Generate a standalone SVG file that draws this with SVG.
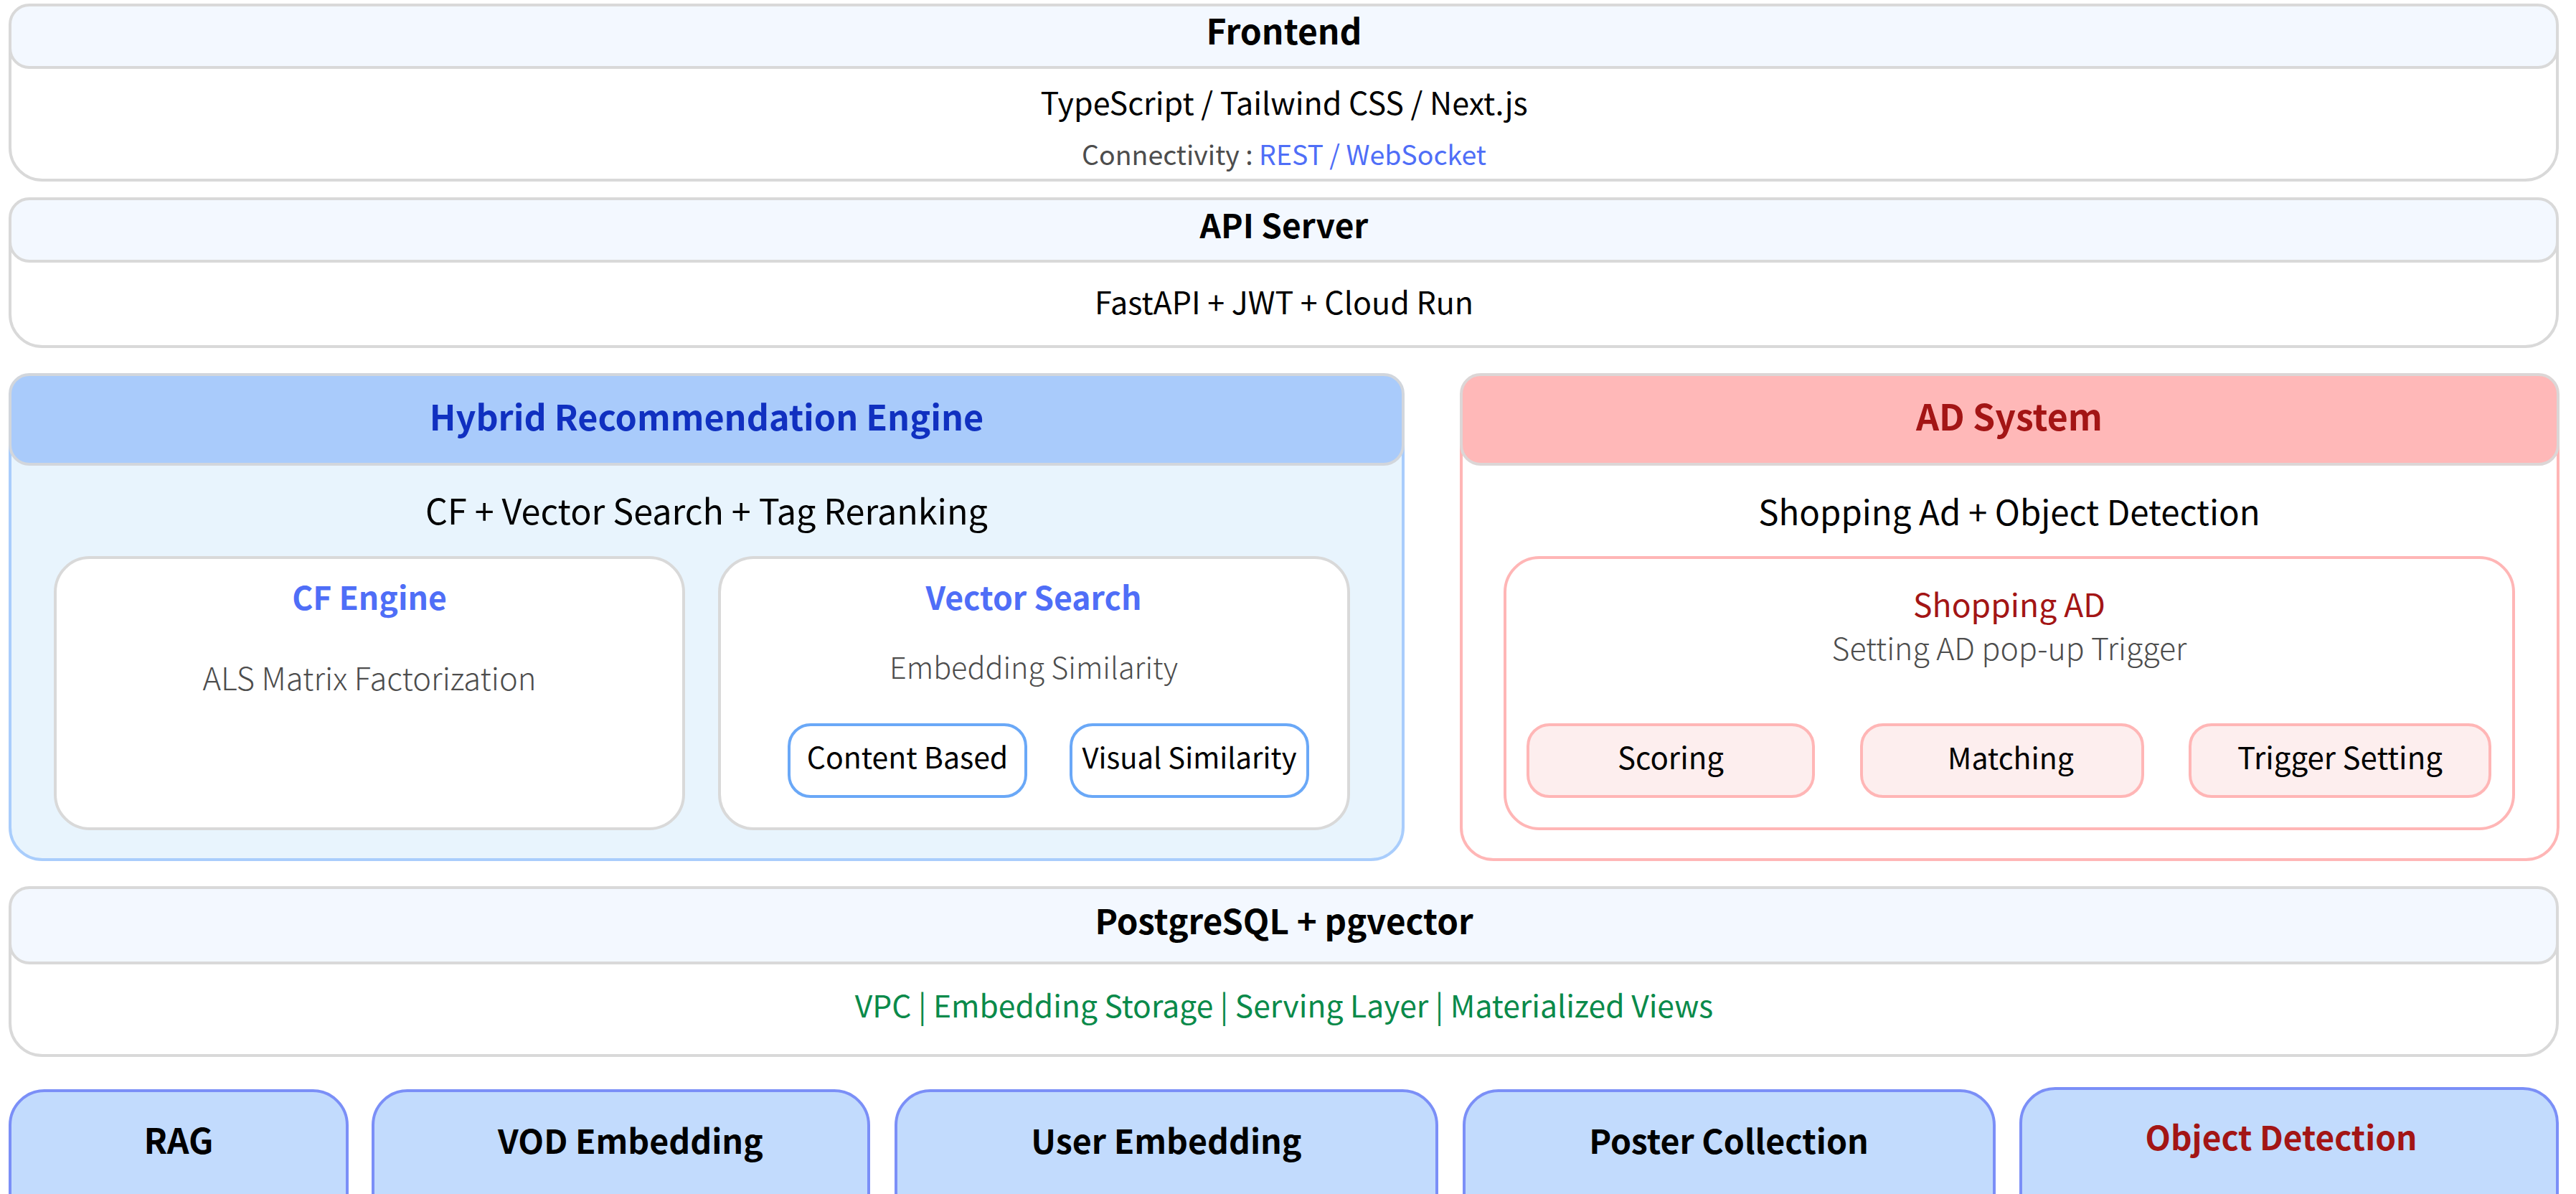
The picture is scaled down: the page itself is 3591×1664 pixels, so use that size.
<svg xmlns="http://www.w3.org/2000/svg" width="3591" height="1664" viewBox="0 0 3591 1664">
<style>
text{font-family:"Noto Sans CJK KR","Noto Sans",sans-serif;text-anchor:middle}
.outer{fill:#fff;stroke:#d9d9d9;stroke-width:4}
.hdr{fill:#f3f8ff;stroke:#d9d9d9;stroke-width:4}
.t{font-size:48px;font-weight:700;fill:#000}
.b{font-size:43px;font-weight:400;fill:#000}
.s{font-size:37.5px;font-weight:400;fill:#4d4d4d}
.lt{font-size:43.5px;font-weight:300;fill:#4d4d4d}
.sub{fill:#fff;stroke:#d9d9d9;stroke-width:4}
.blue{font-size:44.5px;font-weight:700;fill:#4f6ef7}
.chipb{fill:#fff;stroke:#6aa8f7;stroke-width:4}
.chipr{fill:#fdeeee;stroke:#ffb6b6;stroke-width:4}
.base{fill:#c2dbfd;stroke:#7b8ff7;stroke-width:4}
.c{font-size:42px;font-weight:400;fill:#000}
.bb{font-size:46.5px;font-weight:700;fill:#000}
</style>
<g id="frontend">
<rect class="outer" x="14" y="7" width="3551" height="244" rx="45"/>
<rect class="hdr" x="14" y="7" width="3551" height="87" rx="27"/>
<text class="t" x="1790" y="62">Frontend</text>
<text class="b" x="1790" y="160">TypeScript / Tailwind CSS / Next.js</text>
<text class="s" x="1790" y="230">Connectivity : <tspan fill="#4f6ef7">REST / WebSocket</tspan></text>
</g>
<g id="api-server">
<rect class="outer" x="14" y="277" width="3551" height="206" rx="45"/>
<rect class="hdr" x="14" y="277" width="3551" height="87" rx="27"/>
<text class="t" x="1790" y="332" style="font-size:46px">API Server</text>
<text class="b" x="1790" y="438">FastAPI + JWT + Cloud Run</text>
</g>
<g id="hybrid-engine">
<rect x="14" y="522" width="1942" height="676" rx="45" fill="#e8f4fd" stroke="#a9cdfc" stroke-width="4"/>
<rect x="14" y="522" width="1942" height="125" rx="27" fill="#a9cbfb" stroke="#d2d6dc" stroke-width="4"/>
<text class="t" x="985" y="600" style="fill:#1030c0;font-size:48.5px">Hybrid Recommendation Engine</text>
<text class="b" x="985" y="731" style="font-size:48.5px">CF + Vector Search + Tag Reranking</text>
</g>
<g id="cf-engine">
<rect class="sub" x="77" y="777" width="876" height="378" rx="48"/>
<text class="blue" x="515" y="850">CF Engine</text>
<text class="lt" x="515" y="962">ALS Matrix Factorization</text>
</g>
<g id="vector-search">
<rect class="sub" x="1003" y="777" width="877" height="378" rx="48"/>
<text class="blue" x="1441" y="850">Vector Search</text>
<text class="lt" x="1441" y="946" style="font-size:41.4px">Embedding Similarity</text>
</g>
<g id="content-based">
<rect class="chipb" x="1100" y="1010" width="330" height="100" rx="30"/>
<text class="c" x="1265" y="1071" style="font-size:41px">Content Based</text>
</g>
<g id="visual-similarity">
<rect class="chipb" x="1493" y="1010" width="330" height="100" rx="30"/>
<text class="c" x="1658" y="1071" style="font-size:40px">Visual Similarity</text>
</g>
<g id="ad-system">
<rect x="2037" y="522" width="1529" height="676" rx="45" fill="#fff" stroke="#ffb6b6" stroke-width="4"/>
<rect x="2037" y="522" width="1529" height="125" rx="27" fill="#ffb8b8" stroke="#dcd6d6" stroke-width="4"/>
<text class="t" x="2801" y="600" style="fill:#a31515;font-size:50px">AD System</text>
<text class="b" x="2801" y="732" style="font-size:47.4px">Shopping Ad + Object Detection</text>
</g>
<g id="shopping-ad">
<rect x="2098" y="777" width="1406" height="378" rx="48" fill="#fff" stroke="#ffb6b6" stroke-width="4"/>
<text class="b" x="2801" y="860" style="fill:#a31515;font-size:44.5px">Shopping AD</text>
<text class="lt" x="2801" y="920" style="font-size:42.8px">Setting AD pop-up Trigger</text>
</g>
<g id="scoring">
<rect class="chipr" x="2130" y="1010" width="398" height="100" rx="30"/>
<text class="c" x="2329" y="1072">Scoring</text>
</g>
<g id="matching">
<rect class="chipr" x="2595" y="1010" width="392" height="100" rx="30"/>
<text class="c" x="2803" y="1072" style="font-size:41px">Matching</text>
</g>
<g id="trigger-setting">
<rect class="chipr" x="3053" y="1010" width="418" height="100" rx="30"/>
<text class="c" x="3262" y="1072">Trigger Setting</text>
</g>
<g id="postgres">
<rect class="outer" x="14" y="1237" width="3551" height="234" rx="45"/>
<rect class="hdr" x="14" y="1237" width="3551" height="105" rx="27"/>
<text class="t" x="1790" y="1302" style="font-size:47.5px">PostgreSQL + pgvector</text>
<text class="c" x="1790" y="1418" style="fill:#0a8a4a;font-size:42.6px">VPC | Embedding Storage | Serving Layer | Materialized Views</text>
</g>
<g id="rag">
<rect class="base" x="14" y="1520" width="470" height="200" rx="48"/>
<text class="bb" x="249" y="1608" style="font-size:48px">RAG</text>
</g>
<g id="vod-embedding">
<rect class="base" x="520" y="1520" width="691" height="200" rx="48"/>
<text class="bb" x="879" y="1608">VOD Embedding</text>
</g>
<g id="user-embedding">
<rect class="base" x="1249" y="1520" width="754" height="200" rx="48"/>
<text class="bb" x="1626" y="1608">User Embedding</text>
</g>
<g id="poster-collection">
<rect class="base" x="2041" y="1520" width="739" height="200" rx="48"/>
<text class="bb" x="2410" y="1608">Poster Collection</text>
</g>
<g id="object-detection">
<rect class="base" x="2817" y="1517" width="748" height="200" rx="48"/>
<text class="bb" x="3180" y="1603" style="fill:#a31515;font-weight:600;font-size:46px">Object Detection</text>
</g>
<g id="connectors"></g>
</svg>
